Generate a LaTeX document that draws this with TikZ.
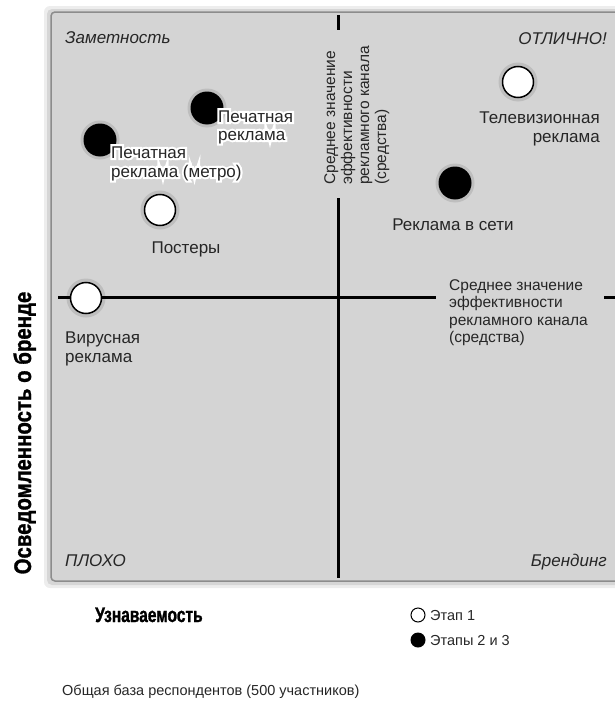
\documentclass[tikz,border=0pt]{standalone}
\usepackage{fontspec}
\setmainfont{Liberation Sans}
\newfontfamily\titlefont{Liberation Sans Bold}[FakeStretch=0.85,FakeBold=1.2]
\newfontfamily\titlefontx{Liberation Sans Bold}[FakeStretch=0.74,FakeBold=1.2]
\begin{document}
\begin{tikzpicture}[x=1pt,y=-1pt,
  font=\fontsize{17}{19}\selectfont,
  lbl/.style={text=black!85, inner sep=0pt},
  halotext/.style={text=white, inner sep=0pt, font=\fontsize{17}{19}\selectfont\addfontfeature{FakeBold=25}},
  dotw/.style={circle, draw=black, line width=1.5pt, fill=white, minimum size=31pt, inner sep=0pt},
  dotb/.style={circle, fill=black, minimum size=33pt, inner sep=0pt},
  dotshadow/.style={circle, fill=black, opacity=0.10, minimum size=39pt, inner sep=0pt},
  axisline/.style={line width=3pt, black},
  meanlbl/.style={text=black!85, inner sep=0pt, font=\fontsize{15.5}{17.5}\selectfont},
  corner/.style={font=\fontsize{17}{19}\selectfont\itshape, text=black!85, inner sep=0pt},
  smalltext/.style={text=black!85, inner sep=0pt, font=\fontsize{14.5}{17}\selectfont},
  axistitle/.style={font=\titlefont\fontsize{24}{26}\selectfont, text=black, inner sep=0pt}]
\useasboundingbox (0,0) rectangle (615,712);
% panel with shadow
\fill[black!7, rounded corners=6pt] (44,6) rectangle (625,588);
\fill[black!16, rounded corners=5pt] (47,9) rectangle (622,585);
\draw[fill=black!17, draw=black!45, line width=1.5pt, rounded corners=4pt] (51,12) rectangle (620,581);
% axes
\coordinate (vtop1) at (338,15);
\coordinate (vtop2) at (338,30);
\coordinate (vbot1) at (338,198);
\coordinate (vbot2) at (338,578);
\coordinate (hl1) at (58,297);
\coordinate (hl2) at (436,297);
\coordinate (hr1) at (604,297);
\coordinate (hr2) at (620,297);
\draw[axisline] (vtop1) -- (vtop2);
\draw[axisline] (vbot1) -- (vbot2);
\draw[axisline] (hl1) -- (hl2);
\draw[axisline] (hr1) -- (hr2);
% vertical mean label (rotated lines)
\node[meanlbl, rotate=90, anchor=base west] (vm1) at (335,185) {Среднее значение};
\node[meanlbl, rotate=90, anchor=base west] (vm2) at (352,185) {эффективности};
\node[meanlbl, rotate=90, anchor=base west] (vm3) at (369,185) {рекламного канала};
\node[meanlbl, rotate=90, anchor=base west] (vm4) at (386,185) {(средства)};
% horizontal mean label
\node[meanlbl, anchor=base west] (hm1) at (449,290) {Среднее значение};
\node[meanlbl, anchor=base west] (hm2) at (449,307.5) {эффективности};
\node[meanlbl, anchor=base west] (hm3) at (449,325) {рекламного канала};
\node[meanlbl, anchor=base west] (hm4) at (449,342.5) {(средства)};
% corner labels
\node[corner, anchor=base west] (c1) at (65,43) {Заметность};
\node[corner, anchor=base east] (c2) at (607,44) {ОТЛИЧНО!};
\node[corner, anchor=base west] (c3) at (65,566) {ПЛОХО};
\node[corner, anchor=base east] (c4) at (607,566) {Брендинг};
% points
\node[dotshadow] (s1) at (207,108) {};
\node[dotb] (p1) at (207,108) {};
\node[dotshadow] (s2) at (100,140) {};
\node[dotb] (p2) at (100,140) {};
\node[dotshadow] (s3) at (160,210) {};
\node[dotw] (p3) at (160,210) {};
\node[dotshadow] (s4) at (518,82) {};
\node[dotw] (p4) at (518,82) {};
\node[dotshadow] (s5) at (455,183) {};
\node[dotb] (p5) at (455,183) {};
\node[dotshadow] (s6) at (86,298) {};
\node[dotw] (p6) at (86,298) {};
% white halo behind the two print labels
\node[halotext, anchor=base west] (h1a) at (218,122) {Печатная};
\node[halotext, anchor=base west] (h1b) at (218,140) {реклама};
\node[halotext, anchor=base west] (h2a) at (111,158) {Печатная};
\node[halotext, anchor=base west] (h2b) at (111,177) {реклама (метро)};
\node[lbl, anchor=base west] (l1a) at (218,122) {Печатная};
\node[lbl, anchor=base west] (l1b) at (218,140) {реклама};
\node[lbl, anchor=base west] (l2a) at (111,158) {Печатная};
\node[lbl, anchor=base west] (l2b) at (111,177) {реклама (метро)};
\node[lbl, anchor=base] (l3) at (186,253) {Постеры};
\node[lbl, anchor=base east] (l4a) at (600,123) {Телевизионная};
\node[lbl, anchor=base east] (l4b) at (600,142) {реклама};
\node[lbl, anchor=base] (l5) at (453,230) {Реклама в сети};
\node[lbl, anchor=base west] (l6a) at (65,343) {Вирусная};
\node[lbl, anchor=base west] (l6b) at (65,362) {реклама};
% axis titles
\node[axistitle, rotate=90, anchor=base] (ytitle) at (31,433) {Осведомленность о бренде};
\node[axistitle, font=\titlefontx\fontsize{21}{23}\selectfont, anchor=base west] (xtitle) at (95,622) {Узнаваемость};
% legend
\node[circle, draw=black, line width=1pt, fill=white, minimum size=14pt, inner sep=0pt] (lg1) at (418,615) {};
\node[smalltext, anchor=base west] (lg1t) at (430,620) {Этап 1};
\node[circle, fill=black, minimum size=15pt, inner sep=0pt] (lg2) at (418,640) {};
\node[smalltext, anchor=base west] (lg2t) at (430,645) {Этапы 2 и 3};
% footer
\node[smalltext, anchor=base west] (foot) at (62,695) {Общая база респондентов (500 участников)};
\end{tikzpicture}
\end{document}
